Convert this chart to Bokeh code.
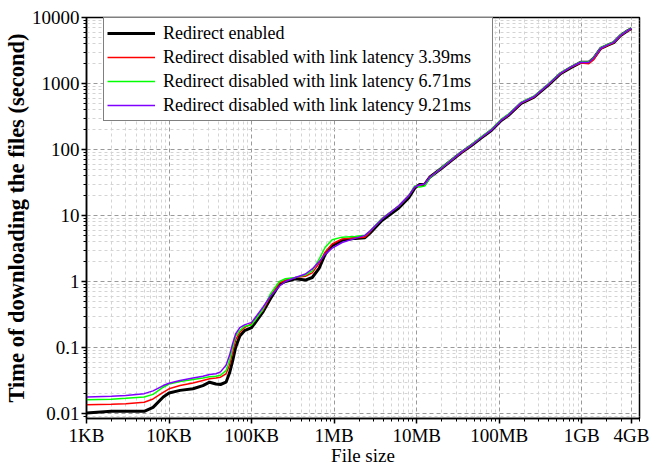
from bokeh.plotting import figure
from bokeh.models import FixedTicker, Legend, LegendItem
from bokeh.embed import file_html
from bokeh.resources import INLINE

# ---------------- data (file size in KB, time in seconds) ----------------
sizes_kb = [1, 2, 3, 5, 6.4, 8.5, 10, 13.6, 19.5, 25.7, 31, 37, 42, 49, 54, 59, 64, 72, 82, 100,
            136, 169, 217, 257, 339, 448, 543, 660, 779, 946, 1248, 1790, 2360, 2715, 3790, 6070,
            8020, 9460, 10870, 12480, 14350, 20000, 34800, 46000, 60700, 80160, 105700, 128300,
            184000, 264000, 389000, 558000, 736000, 972000, 1214000, 1395000, 1695000, 2060000,
            2430000, 2950000, 3580000, 4000000]

redirect_enabled = [0.0102, 0.0108, 0.0108, 0.0108, 0.0124, 0.0178, 0.0204, 0.0224, 0.0237, 0.0265,
                    0.0298, 0.028, 0.0275, 0.0298, 0.041, 0.063, 0.10, 0.15, 0.18, 0.2,
                    0.34, 0.55, 0.9, 1.0, 1.1, 1.05, 1.15, 1.6, 2.6, 3.5, 4.2, 4.5, 4.6, 5.4, 8.4, 13,
                    18.6, 26, 29.6, 29.6, 38, 52, 90, 115, 150, 194, 275, 327,
                    500, 620, 940, 1420, 1740, 2090, 2090, 2420, 3400, 3800,
                    4170, 5330, 6300, 6800]

latency_339 = [0.0136, 0.0138, 0.014, 0.0148, 0.0166, 0.0209, 0.0237, 0.0265, 0.029, 0.0316,
               0.0335, 0.0345, 0.0355, 0.04, 0.054, 0.085, 0.13, 0.17, 0.2, 0.23,
               0.36, 0.6, 0.95, 1.05, 1.15, 1.2, 1.35, 1.9, 2.8, 3.7, 4.4, 4.6, 4.7, 5.6, 9.0, 14,
               20, 27, 28.5, 30, 38, 52, 90, 116, 152, 196, 278, 330,
               505, 625, 950, 1430, 1760, 2050, 2000, 2300, 3350, 3800,
               4150, 5300, 6250, 6750]

latency_671 = [0.0162, 0.0165, 0.017, 0.0178, 0.0195, 0.025, 0.028, 0.0305, 0.0327, 0.0345,
               0.036, 0.0366, 0.038, 0.0446, 0.063, 0.1, 0.148, 0.18, 0.21, 0.22,
               0.37, 0.65, 1.0, 1.1, 1.15, 1.25, 1.45, 2.2, 3.3, 4.3, 4.7, 4.8, 5.0, 5.8, 9.0, 14,
               20, 28, 27, 28, 37, 53, 92, 118, 155, 200, 285, 340,
               515, 640, 970, 1460, 1790, 2130, 2120, 2480, 3480, 3900,
               4250, 5450, 6400, 6900]

latency_921 = [0.0178, 0.0183, 0.0188, 0.02, 0.022, 0.0265, 0.0288, 0.0316, 0.0345, 0.0366,
               0.039, 0.04, 0.0427, 0.054, 0.076, 0.115, 0.16, 0.2, 0.22, 0.24,
               0.40, 0.6, 0.85, 1.0, 1.15, 1.3, 1.55, 2.0, 2.6, 3.2, 3.9, 4.5, 5.0, 5.8, 8.8, 14,
               20, 27, 29, 30, 38, 52, 91, 116, 152, 196, 278, 332,
               508, 630, 955, 1440, 1770, 2100, 2080, 2440, 3420, 3850,
               4200, 5380, 6330, 6850]

x_ticks = [1, 10, 100, 1000, 10000, 100000, 1000000, 4000000]
x_tick_labels = ["1KB", "10KB", "100KB", "1MB", "10MB", "100MB", "1GB", "4GB"]
y_ticks = [0.01, 0.1, 1, 10, 100, 1000, 10000]
y_tick_labels = ["0.01", "0.1", "1", "10", "100", "1000", "10000"]

series_names = ["Redirect enabled",
                "Redirect disabled with link latency 3.39ms",
                "Redirect disabled with link latency 6.71ms",
                "Redirect disabled with link latency 9.21ms"]
series_values = [redirect_enabled, latency_339, latency_671, latency_921]
series_colors = ["#000000", "#ff0000", "#00ff00", "#8000ff"]
series_widths = [3, 1.5, 1.5, 1.5]

FONT = "Liberation Serif"

p = figure(width=650, height=468, x_axis_type="log", y_axis_type="log",
           x_range=(1, 5000000), y_range=(0.0084, 10000),
           output_backend="svg", toolbar_location=None,
           min_border_left=83, min_border_right=11, min_border_top=17, min_border_bottom=49)

p.outline_line_color = "black"
p.outline_line_width = 1.5
p.background_fill_color = "white"


def minor_list(lo_exp, hi_exp):
    out = []
    for e in range(lo_exp, hi_exp):
        for m in range(2, 10):
            out.append(m * 10 ** e)
    return out


x_minor = minor_list(0, 6) + [2000000, 3000000, 5000000]
y_minor = [v for v in minor_list(-3, 4) if v >= 0.0084]

p.xaxis.ticker = FixedTicker(ticks=x_ticks, minor_ticks=x_minor)
p.yaxis.ticker = FixedTicker(ticks=y_ticks, minor_ticks=y_minor)
p.xaxis.major_label_overrides = {float(k): v for k, v in zip(x_ticks, x_tick_labels)}
p.yaxis.major_label_overrides = {float(k): v for k, v in zip(y_ticks, y_tick_labels)}

for ax in (p.xaxis[0], p.yaxis[0]):
    ax.axis_line_color = "black"
    ax.axis_line_width = 1.5
    ax.major_tick_line_color = "black"
    ax.minor_tick_line_color = "black"
    ax.major_tick_line_width = 1.5
    ax.major_tick_out = 5
    ax.major_tick_in = 0
    ax.minor_tick_out = 3
    ax.minor_tick_in = 0
    ax.major_label_text_font = FONT
    ax.major_label_text_font_size = "19px"
    ax.major_label_text_color = "black"
    ax.axis_label_text_font = FONT
    ax.axis_label_text_color = "black"
    ax.major_label_standoff = 2
    ax.axis_label_standoff = 0

p.xaxis.major_label_standoff = 1
p.xaxis.axis_label_standoff = -4
p.xaxis.axis_label = "File size"
p.xaxis.axis_label_text_font_size = "19px"
p.xaxis.axis_label_text_font_style = "normal"
p.yaxis.axis_label = "Time of downloading the files (second)"
p.yaxis.axis_label_text_font_size = "22.5px"
p.yaxis.axis_label_text_font_style = "bold"

for g in (p.xgrid[0], p.ygrid[0]):
    g.grid_line_color = "#9a9a9a"
    g.grid_line_dash = "4 3"
    g.grid_line_width = 1
    g.minor_grid_line_color = "#d4d4d4"
    g.minor_grid_line_dash = "3 3"
    g.minor_grid_line_width = 1

items = []
for name, vals, col, w in zip(series_names, series_values, series_colors, series_widths):
    r = p.line(sizes_kb, vals, line_color=col, line_width=w)
    items.append(LegendItem(label=name, renderers=[r]))

legend = Legend(items=items, location=(17, 297))
legend.label_text_font = FONT
legend.label_text_font_size = "18px"
legend.label_text_color = "black"
legend.glyph_width = 48
legend.glyph_height = 24
legend.label_height = 24
legend.label_width = 326
legend.label_standoff = 8
legend.spacing = 0
legend.padding = 3
legend.margin = 0
legend.border_line_color = "black"
legend.border_line_width = 1
legend.background_fill_color = "white"
legend.background_fill_alpha = 1
p.add_layout(legend, "center")

open("out.html", "w").write(file_html(p, INLINE))
